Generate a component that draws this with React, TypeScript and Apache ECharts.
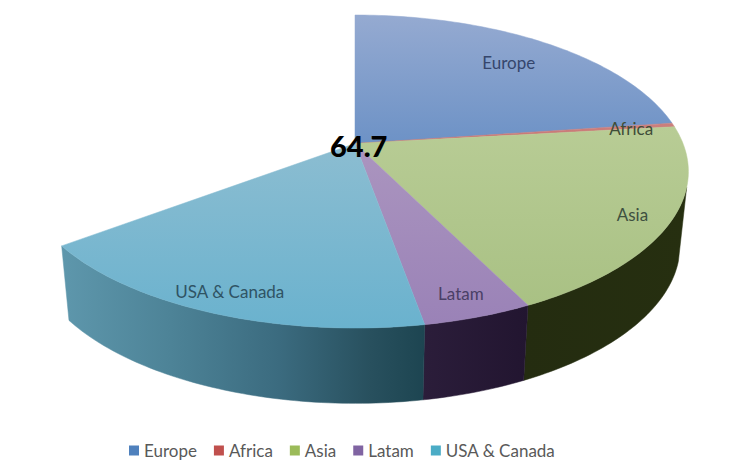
import React, { useEffect, useRef } from "react";
import * as echarts from "echarts";

const categories = ["Europe", "Africa", "Asia", "Latam", "USA & Canada"];
const values = [22.8, 0.4, 19.5, 4.5, 17.5];
const totalLabel = "64.7";
const fullCircle = 100;

const legendColors = ["#4f81bd", "#c0504d", "#9bbb59", "#8064a2", "#4bacc6"];
const topColors = [
  ["#95aad1", "#6d92c6"],
  ["#cc7f7d", "#c87573"],
  ["#b8cc95", "#a9c184"],
  ["#ab95bf", "#9a82b7"],
  ["#8cbdd1", "#6ab2ce"],
];
const wallStops: [number, string][][] = [
  [[0, "#39486a"], [1, "#39486a"]],
  [[0, "#5a2a28"], [1, "#5a2a28"]],
  [[0, "#242c10"], [1, "#262f10"]],
  [[0, "#2b1d3a"], [1, "#221530"]],
  [[0, "#5e97ac"], [0.3, "#4d8397"], [0.6, "#3b6b7f"], [0.85, "#28505e"], [1, "#1d4551"]],
];
const labelColors = ["#35466c", "#3f4d38", "#3e5040", "#4a3f66", "#2f5364"];
const labelRadii = [0.79, 0.865, 0.89, 0.88, 0.89];

// Perspective projection of the unit disc
const CX = 355;
const TOP_CY = 143.5;
const BOTTOM_CY = 217;
const A = 328;
const B = 151.5;
const BOTTOM_B = 153;
const BOTTOM_SCALE = 0.975;
const P = 0.179;
// The outer wall is seen only past this angle (where it turns away on the right)
const WALL_FROM = (106 / 180) * Math.PI;

function project(theta: number, r: number, bottom = false): [number, number] {
  const u = r * Math.sin(theta);
  const v = -r * Math.cos(theta);
  const d = 1 - P * v;
  const sx = bottom ? BOTTOM_SCALE : 1;
  const cy = bottom ? BOTTOM_CY : TOP_CY;
  const b = bottom ? BOTTOM_B : B;
  return [CX + (sx * A * u) / d, cy + (b * v) / d];
}

function arc(t0: number, t1: number, bottom = false): [number, number][] {
  const n = Math.max(2, Math.ceil(((t1 - t0) / (Math.PI * 2)) * 360));
  const pts: [number, number][] = [];
  for (let i = 0; i <= n; i++) pts.push(project(t0 + ((t1 - t0) * i) / n, 1, bottom));
  return pts;
}

const toAngle = (v: number) => (v / fullCircle) * Math.PI * 2;

function gradient(x2: number, y2: number, stops: [number, string][]) {
  return new echarts.graphic.LinearGradient(
    0,
    0,
    x2,
    y2,
    stops.map(([offset, color]) => ({ offset, color }))
  );
}

export default function App() {
  const ref = useRef<HTMLDivElement>(null);
  useEffect(() => {
    const chart = echarts.init(ref.current!, undefined, { renderer: "svg" });
    let cum = 0;
    const series = categories.map((name, i) => {
      const start = cum;
      cum += values[i];
      return {
        type: "custom",
        name,
        coordinateSystem: "none",
        itemStyle: { color: legendColors[i] },
        data: [[start, values[i]]],
        renderItem: (_p: any, api: any) => {
          const t0 = toAngle(api.value(0));
          const t1 = toAngle(api.value(0) + api.value(1));
          const top = arc(t0, t1);
          const mid = (t0 + t1) / 2;
          const [lx, ly] = project(mid, labelRadii[i]);
          const children: any[] = [];
          if (t1 > WALL_FROM) {
            const w0 = Math.max(t0, WALL_FROM);
            const wallFill = gradient(1, 0, wallStops[i]);
            children.push({
              type: "polygon",
              z2: 1,
              shape: { points: [...arc(w0, t1), ...arc(w0, t1, true).reverse()] },
              style: { fill: wallFill, stroke: wallFill, lineWidth: 0.5 },
            });
          }
          const topFill = gradient(0, 1, [
            [0, topColors[i][0]],
            [1, topColors[i][1]],
          ]);
          children.push(
            {
              type: "polygon",
              z2: 2,
              shape: { points: [[CX, TOP_CY], ...top] },
              style: { fill: topFill, stroke: topFill, lineWidth: 0.5 },
            },
            {
              type: "text",
              z2: 3,
              x: lx,
              y: ly + 1,
              style: {
                text: name,
                fill: labelColors[i],
                font: "17px Lato",
                align: "center",
                verticalAlign: "middle",
              },
            }
          );
          return { type: "group", children };
        },
      };
    });
    chart.setOption({
      animation: false,
      backgroundColor: "#ffffff",
      title: {
        text: totalLabel,
        left: 330,
        top: 131,
        padding: 0,
        textStyle: { color: "#000000", fontFamily: "Lato", fontWeight: 900, fontSize: 29 },
      },
      legend: {
        left: 129,
        top: 442,
        padding: 0,
        icon: "rect",
        itemWidth: 10,
        itemHeight: 10,
        itemGap: 17,
        selectedMode: false,
        textStyle: { color: "#595959", fontFamily: "Lato", fontSize: 17, padding: [0, 0, 0, 0] },
        data: categories.map((name, i) => ({ name, itemStyle: { color: legendColors[i] } })),
      },
      series,
    });
    return () => chart.dispose();
  }, []);
  return (
    <div
      ref={ref}
      style={{ position: "fixed", left: 0, top: 0, width: 754, height: 464 }}
    />
  );
}
